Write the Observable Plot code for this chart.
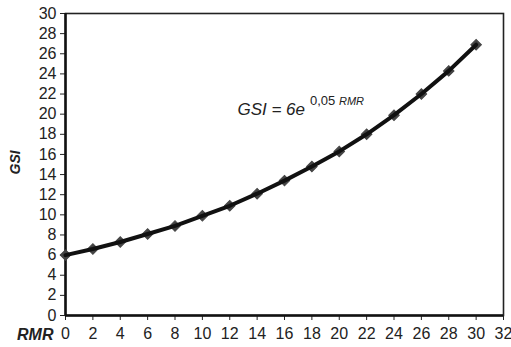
<!DOCTYPE html>
<html>
<head>
<meta charset="utf-8">
<script src="https://cdn.jsdelivr.net/npm/d3@7"></script>
<script src="https://cdn.jsdelivr.net/npm/@observablehq/plot@0.6"></script>
<style>
  html, body { margin: 0; padding: 0; background: #fff; }
  svg { font-family: "Liberation Sans", Arial, sans-serif; }
</style>
</head>
<body>
<div id="chart"></div>
<script>
const rmr = [0, 2, 4, 6, 8, 10, 12, 14, 16, 18, 20, 22, 24, 26, 28, 30];
const gsi = [6.0, 6.6, 7.3, 8.1, 8.9, 9.9, 10.9, 12.1, 13.4, 14.8, 16.3, 18.0, 19.9, 22.0, 24.3, 26.9];
const xTicks = d3.range(0, 33, 2);
const yTicks = d3.range(0, 31, 2);
const eqPos = {x: 12.6, y: 19.9};

const data = rmr.map((r, i) => ({rmr: r, gsi: gsi[i]}));

const chart = Plot.plot({
  width: 511,
  height: 347,
  marginLeft: 65,
  marginRight: 8,
  marginTop: 13,
  marginBottom: 32,
  style: {fontSize: "16px", fontFamily: "Liberation Sans, Arial, sans-serif", color: "#222"},
  x: {domain: [0, 32]},
  y: {domain: [0, 30]},
  marks: [
    Plot.axisX({ticks: xTicks, tickSize: 5, tickPadding: 7, fontSize: 16, label: null, stroke: "#222", fill: "#222"}),
    Plot.axisY({ticks: yTicks, tickSize: 5, tickPadding: 4, fontSize: 16, label: null, stroke: "#222", fill: "#222"}),
    Plot.frame({stroke: "#222", strokeWidth: 1.6}),
    Plot.ruleX([0], {stroke: "#111", strokeWidth: 2.5}),
    Plot.ruleY([0], {stroke: "#111", strokeWidth: 2.5}),
    Plot.dot(data, {x: "rmr", y: "gsi", symbol: "square", rotate: 45, r: 4.2, fill: "#444", stroke: "#444", strokeWidth: 1}),
    Plot.line(data, {x: "rmr", y: "gsi", stroke: "#111", strokeWidth: 4, curve: "linear"}),
    Plot.text(["RMR"], {frameAnchor: "bottom-left", dx: -12, dy: 24, textAnchor: "end", lineAnchor: "bottom", fontWeight: "bold", fontStyle: "italic", fontSize: 16, fill: "#222"}),
    Plot.text(["GSI"], {frameAnchor: "left", rotate: -90, dx: -50, dy: 10, fontWeight: "bold", fontStyle: "italic", fontSize: 14, fill: "#222"})
  ]
});

document.getElementById("chart").appendChild(chart);

// Equation label with superscript, positioned via the chart's scales
const sx = chart.scale("x"), sy = chart.scale("y");
const px = sx.apply(eqPos.x), py = sy.apply(eqPos.y);
const t = d3.select(chart).append("text")
  .attr("x", px).attr("y", py)
  .attr("text-anchor", "start")
  .attr("fill", "#222")
  .style("font-family", "Liberation Sans, Arial, sans-serif")
  .style("font-size", "17px");
t.append("tspan").attr("font-style", "italic").text("GSI = 6e");
t.append("tspan").attr("dx", 5).attr("dy", -10).attr("font-size", "13px").text("0,05 ");
t.append("tspan").attr("font-size", "11px").attr("font-style", "italic").text("RMR");
</script>
</body>
</html>
